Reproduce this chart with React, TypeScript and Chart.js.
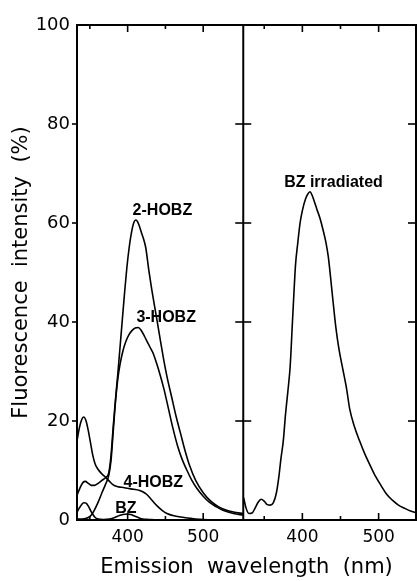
import React, { useEffect, useRef } from 'react';
import { Chart, registerables } from 'chart.js';

Chart.register(...registerables);

// ---- axes ----
const Y_TICKS = [0, 20, 40, 60, 80, 100];
const X_TICKS = [350, 400, 450, 500];
const X_LABELED = [400, 500];
const LEFT_MIN = 333;
const LEFT_MAX = 553;
const RIGHT_MIN = 322.5;
const RIGHT_MAX = 549;
const X_TITLE = 'Emission  wavelength  (nm)';
const Y_TITLE = 'Fluorescence  intensity  (%)';

// ---- left panel series ----
const HOBZ2_WL = [333, 337, 341, 344, 348, 352, 356, 361, 366, 371, 375, 378, 381, 384, 387, 390, 393, 396, 399, 402, 405, 408, 411, 413, 415, 418, 421, 424, 428, 432, 437, 442, 447, 452, 458, 464, 470, 476, 482, 490, 500, 510, 520, 530, 540, 553];
const HOBZ2_INT = [5.0, 6.5, 7.6, 7.8, 7.4, 7.0, 7.0, 7.4, 8.0, 8.6, 9.5, 13, 19, 24.5, 29.5, 35, 40.5, 46, 51, 55, 58, 60, 60.6, 60.3, 59.6, 58.2, 56.8, 55.0, 50.5, 46.5, 42, 37.5, 33, 29, 25, 21, 17.5, 14, 11, 8, 5.5, 3.8, 2.7, 2.0, 1.6, 1.3];

const HOBZ3_WL = [333, 340, 348, 352, 356, 361, 366, 371, 375, 378, 381, 384, 387, 390, 394, 398, 402, 406, 410, 414, 418, 422, 426, 430, 434, 438, 443, 448, 454, 460, 466, 472, 478, 485, 492, 500, 508, 517, 527, 540, 553];
const HOBZ3_INT = [0.2, 0.2, 0.5, 1.0, 2.0, 3.6, 5.5, 7.3, 9.0, 12, 18, 24, 28.5, 31.5, 34.3, 36.2, 37.5, 38.3, 38.8, 38.9, 38.3, 37.2, 36.0, 34.8, 33.6, 31.8, 29.3, 26.5, 22.5, 18.5, 15, 12.3, 10.2, 8.0, 6.3, 4.8, 3.6, 2.7, 1.9, 1.3, 1.0];

const HOBZ4_WL = [333, 336, 339, 342, 345, 348, 351, 354, 357, 361, 366, 371, 376, 380, 385, 392, 400, 408, 415, 420, 425, 430, 435, 440, 446, 452, 460, 470, 480, 490, 500, 553];
const HOBZ4_INT = [16, 18.5, 20.2, 20.8, 20, 18, 15.5, 13, 11.3, 10.2, 9.3, 8.6, 7.8, 7.2, 6.8, 6.6, 6.4, 6.2, 6.0, 5.7, 5.2, 4.4, 3.5, 2.7, 1.9, 1.3, 0.9, 0.6, 0.4, 0.2, 0.1, 0];

const BZ_WL = [333, 336, 339, 342, 345, 348, 351, 354, 357, 361, 368, 376, 383, 389, 394, 399, 404, 409, 414, 420, 428, 440, 553];
const BZ_INT = [1.6, 2.4, 3.1, 3.5, 3.4, 2.8, 1.9, 1.1, 0.5, 0.2, 0.1, 0.2, 0.5, 0.9, 1.1, 1.2, 1.1, 0.8, 0.5, 0.2, 0.1, 0, 0];

// ---- right panel series ----
const BZIRR_WL = [323, 326, 330, 334, 338, 342, 346, 350, 354, 358, 362, 366, 369, 372, 375, 378, 381, 384, 387, 389, 391, 394, 397, 400, 404, 407, 410, 413, 416, 419, 423, 427, 431, 434, 437, 440, 444, 448, 453, 458, 462, 468, 475, 482, 489, 496, 503, 510, 518, 526, 535, 542, 548];
const BZIRR_INT = [4.5, 2.5, 1.3, 1.4, 2.4, 3.6, 4.2, 3.8, 3.1, 3.0, 3.5, 5.5, 8.5, 12.5, 16, 21.5, 26, 31, 40, 46, 51.5, 56, 60, 62.5, 64.8, 65.8, 66.3, 65.5, 64.2, 62.8, 61, 58.7, 56, 53.2, 49, 44.5, 38.8, 34.5, 30.5, 26.5, 22.5, 19, 16, 13.3, 11, 8.8, 7, 5.3, 4.0, 3.0, 2.3, 1.8, 1.5];

// ---- curve labels ----
const LABEL_TEXT = ['2-HOBZ', '3-HOBZ', '4-HOBZ', 'BZ', 'BZ irradiated'];
const LABEL_WL = [446, 451, 434, 397.6, 440.8];
const LABEL_INT = [61.6, 40, 6.7, 1.4, 67.3];
const LABEL_PANEL = ['xL', 'xL', 'xL', 'xL', 'xR'];

const FONT = '"DejaVu Sans", "Liberation Sans", sans-serif';

const toPoints = (wl: number[], v: number[]) => wl.map((x, i) => ({ x, y: v[i] }));

const framePlugin = {
  id: 'frame',
  afterDraw(chart: any) {
    const { ctx, chartArea, scales } = chart;
    const { left, right, top, bottom } = chartArea;
    const xL = scales.xL;
    const xR = scales.xR;
    const y = scales.y;
    const line = (x1: number, y1: number, x2: number, y2: number) => {
      ctx.beginPath();
      ctx.moveTo(x1, y1);
      ctx.lineTo(x2, y2);
      ctx.stroke();
    };
    ctx.save();
    ctx.strokeStyle = '#000';
    ctx.lineWidth = 2;
    ctx.strokeRect(left, top, right - left, bottom - top);
    const mid = xL.right;
    line(mid, top, mid, bottom);
    ctx.lineWidth = 1.6;
    for (const sc of [xL, xR]) {
      for (const v of X_TICKS) {
        const px = sc.getPixelForValue(v);
        const len = X_LABELED.includes(v) ? 7 : 4;
        line(px, bottom, px, bottom - len);
        line(px, top, px, top + len);
      }
    }
    for (const v of Y_TICKS.slice(1, -1)) {
      const py = y.getPixelForValue(v);
      line(left - 5, py, left, py);
      line(mid - 8, py, mid + 8, py);
      line(right - 8, py, right, py);
    }
    ctx.fillStyle = '#000';
    ctx.textAlign = 'center';
    ctx.textBaseline = 'alphabetic';
    ctx.font = 'bold 16px "Liberation Sans", Arial, sans-serif';
    LABEL_TEXT.forEach((t, i) => {
      const sc = scales[LABEL_PANEL[i]];
      ctx.fillText(t, sc.getPixelForValue(LABEL_WL[i]), y.getPixelForValue(LABEL_INT[i]));
    });
    ctx.font = '21px ' + FONT;
    ctx.fillText(X_TITLE, (left + right) / 2, bottom + 53);
    ctx.restore();
  },
};

const xAxis = (min: number, max: number, weight: number) => ({
  type: 'linear',
  axis: 'x',
  position: 'bottom',
  stack: 'panels',
  stackWeight: weight,
  min,
  max,
  border: { display: false },
  grid: { display: false, drawTicks: false },
  afterBuildTicks: (s: any) => {
    s.ticks = X_TICKS.map((v) => ({ value: v }));
  },
  ticks: {
    autoSkip: false,
    maxRotation: 0,
    minRotation: 0,
    padding: 7,
    color: '#000',
    font: { family: FONT, size: 17 },
    callback: (v: number) => (X_LABELED.includes(v) ? String(v) : ''),
  },
  afterFit: (s: any) => {
    s.height = 61;
  },
});

export default function App() {
  const ref = useRef<HTMLCanvasElement>(null);
  useEffect(() => {
    if (!ref.current) return;
    const common = {
      borderColor: '#000',
      borderWidth: 1.6,
      pointRadius: 0,
      fill: false,
      cubicInterpolationMode: 'monotone',
      yAxisID: 'y',
    };
    const chart = new Chart(ref.current, {
      type: 'line',
      data: {
        datasets: [
          { ...common, label: '2-HOBZ', xAxisID: 'xL', data: toPoints(HOBZ2_WL, HOBZ2_INT) },
          { ...common, label: '3-HOBZ', xAxisID: 'xL', data: toPoints(HOBZ3_WL, HOBZ3_INT) },
          { ...common, label: '4-HOBZ', xAxisID: 'xL', data: toPoints(HOBZ4_WL, HOBZ4_INT) },
          { ...common, label: 'BZ', xAxisID: 'xL', data: toPoints(BZ_WL, BZ_INT) },
          { ...common, label: 'BZ irradiated', xAxisID: 'xR', data: toPoints(BZIRR_WL, BZIRR_INT) },
        ],
      } as any,
      options: {
        responsive: false,
        animation: false,
        layout: { autoPadding: false, padding: { top: 25, right: 1, bottom: 0, left: 0 } },
        plugins: { legend: { display: false }, tooltip: { enabled: false } },
        scales: {
          xL: xAxis(LEFT_MIN, LEFT_MAX, 166.5),
          xR: xAxis(RIGHT_MIN, RIGHT_MAX, 173),
          y: {
            type: 'linear',
            position: 'left',
            min: 0,
            max: 100,
            border: { display: false },
            grid: { display: false, drawTicks: false },
            ticks: { stepSize: 20, padding: 7, color: '#000', font: { family: FONT, size: 18 } },
            title: {
              display: true,
              text: Y_TITLE,
              color: '#000',
              font: { family: FONT, size: 21 },
              padding: { top: 9, bottom: 0 },
            },
            afterFit: (s: any) => {
              s.width = 77;
            },
          },
        } as any,
      },
      plugins: [framePlugin],
    });
    return () => chart.destroy();
  }, []);
  return (
    <div style={{ position: 'fixed', left: 0, top: 0, width: 417, height: 581, background: '#fff' }}>
      <canvas ref={ref} width={417} height={581} style={{ display: 'block' }} />
    </div>
  );
}
